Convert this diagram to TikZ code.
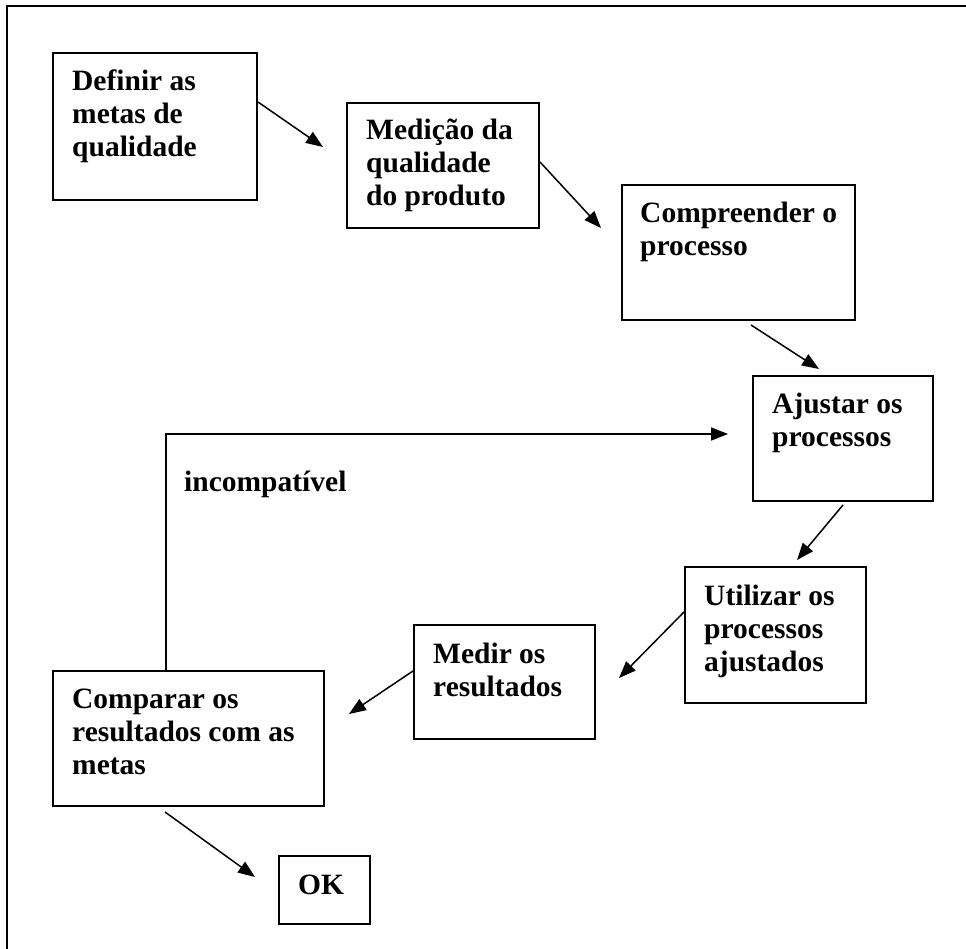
\documentclass[tikz,border=0pt]{standalone}
\usepackage{fontspec}
\setmainfont{Liberation Serif}
\usetikzlibrary{arrows.meta,calc}
\begin{document}
\begin{tikzpicture}[x=1pt,y=-1pt,
  box/.style={draw,line width=2pt,rectangle,anchor=north west,inner sep=0pt},
  txt/.style={anchor=base west,align=left,inner sep=0pt,font=\bfseries\fontsize{29.5}{33}\selectfont},
  arr/.style={line width=1.5pt,-{Triangle[length=17pt,width=13pt]}},
  frameline/.style={line width=2pt}]
\useasboundingbox (0,0) rectangle (966,949);
\draw[frameline] (7,949) -- (7,6) -- (966,6);
% boxes
\node[box,minimum width=204pt,minimum height=147pt] (def) at (52,52) {};
\node[box,minimum width=192pt,minimum height=125pt] (med) at (346,102) {};
\node[box,minimum width=233pt,minimum height=135pt] (comp) at (621,184) {};
\node[box,minimum width=180pt,minimum height=125pt] (aju) at (752,375) {};
\node[box,minimum width=181pt,minimum height=136pt] (uti) at (684,566) {};
\node[box,minimum width=181pt,minimum height=114pt] (medr) at (413,624) {};
\node[box,minimum width=271pt,minimum height=135pt] (cmp) at (52,670) {};
\node[box,minimum width=91pt,minimum height=68pt] (ok) at (278,855) {};
% texts (base anchor = baseline of the last line)
\node[txt] (tdef) at ([xshift=20pt,yshift=-105pt]def.north west) {Definir as\\metas de\\qualidade};
\node[txt] (tmed) at ([xshift=20pt,yshift=-104pt]med.north west) {Medição da\\qualidade\\do produto};
\node[txt] (tcomp) at ([xshift=19pt,yshift=-72pt]comp.north west) {Compreender o\\processo};
\node[txt] (taju) at ([xshift=20pt,yshift=-71pt]aju.north west) {Ajustar os\\processos};
\node[txt] (tuti) at ([xshift=20pt,yshift=-105pt]uti.north west) {Utilizar os\\processos\\ajustados};
\node[txt] (tmedr) at ([xshift=20pt,yshift=-72pt]medr.north west) {Medir os\\resultados};
\node[txt] (tcmp) at ([xshift=20pt,yshift=-104pt]cmp.north west) {Comparar os\\resultados com as\\metas};
\node[txt] (tok) at ([xshift=20pt,yshift=-39pt]ok.north west) {OK};
% connectors
\draw[arr] ([yshift=-50pt]def.north east) -- ([xshift=-23pt,yshift=-45pt]med.north west);
\draw[arr] ([yshift=-60pt]med.north east) -- ([xshift=-20pt,yshift=-44pt]comp.north west);
\draw[arr] ([xshift=130pt,yshift=-4pt]comp.south west) -- ([xshift=67pt,yshift=6pt]aju.north west);
\draw[arr] ([xshift=91pt,yshift=-3pt]aju.south west) -- ([xshift=113pt,yshift=6pt]uti.north west);
\draw[arr] ([yshift=-46pt]uti.north west) -- ([xshift=23pt,yshift=-54pt]medr.north east);
\draw[arr] ([yshift=-47pt]medr.north west) -- ([xshift=24pt,yshift=-44pt]cmp.north east);
\draw[arr] ([xshift=113pt,yshift=-5pt]cmp.south west) -- ([xshift=-23pt,yshift=-22pt]ok.north west);
\draw[arr] ([xshift=114pt]cmp.north west) |- ([xshift=-24pt,yshift=-59pt]aju.north west);
\node[txt] (incomp) at (184,491) {incompatível};
\end{tikzpicture}
\end{document}
